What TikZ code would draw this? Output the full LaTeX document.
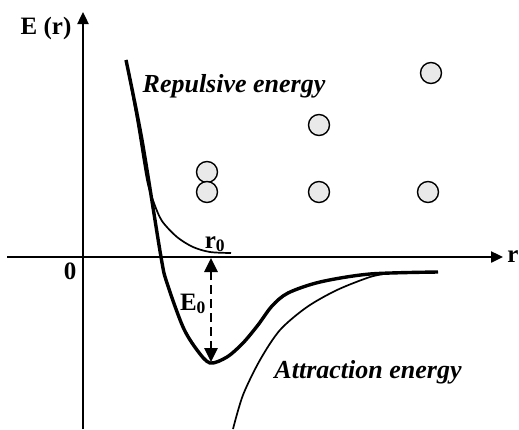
\documentclass[tikz,border=0pt]{standalone}
\usepackage{fontspec}
\setmainfont{Liberation Serif}
\usetikzlibrary{arrows.meta}
\definecolor{atomgray}{HTML}{E8E9E8}

\begin{document}
\begin{tikzpicture}[x=1pt,y=-1pt,
 ax/.style={line width=2.4pt,-{Triangle[length=12pt,width=11pt]}},
 tot/.style={line width=3.4pt,line join=round},
 part/.style={line width=1.7pt},
 gap/.style={line width=2.8pt,dash pattern=on 9pt off 5pt,{Triangle[length=14pt,width=13pt]}-{Triangle[length=14pt,width=13pt]}},
 atom/.style={circle,draw,line width=1.4pt,fill=atomgray,minimum size=21pt,inner sep=0pt},
 lbl/.style={font=\fontsize{25}{28}\selectfont\bfseries,inner sep=0pt,anchor=base},
 nrg/.style={font=\fontsize{26}{28}\selectfont\bfseries\itshape,inner sep=0pt,anchor=base}]
\useasboundingbox (0,0) rectangle (519,429);

% axes
\coordinate (ybot) at (83,429);
\coordinate (ytop) at (83,12);
\coordinate (xl) at (7,257);
\coordinate (xr) at (503,257);
\draw[ax] (ybot)--(ytop);
\draw[ax] (xl)--(xr);
\node[lbl] (elab) at (46,34) {E (r)};
\node[lbl] (zero) at (70,279) {0};
\node[lbl] (rlab) at (513,262) {r};

% atoms
\node[atom] (a1) at (207,172) {};
\node[atom] (a2) at (207,192) {};
\node[atom] (a3) at (319,125) {};
\node[atom] (a4) at (319,192) {};
\node[atom] (a5) at (428,192) {};
\node[atom] (a6) at (431,73) {};

% repulsive part
\draw[part] plot[smooth] coordinates {(126,60) (137,120) (147,180) (154,203) (162,221) (177,237) (193,247) (210,252) (231,253)};
% attraction part
\draw[part] plot[smooth] coordinates {(233,429) (243,395) (260,360) (280,330) (307,307) (337,290) (370,277) (390,273)};
% total energy
\draw[tot] plot[smooth] coordinates {(126,60) (142,140) (161,257) (167,283) (183,327) (197,350) (210,363) (227,357) (243,343) (258,325) (272,306) (288,293) (320,282) (370,274) (438,272)};

% r0 and E0
\coordinate (r0) at (211,258);
\coordinate (emin) at (211,362);
\draw[gap] (r0)--(emin);
\node[lbl] (r0lab) at (215,248) {r\textsubscript{0}};
\node[lbl] (e0lab) at (193,310) {E\textsubscript{0}};

\node[nrg] (rep) at (234,92) {Repulsive energy};
\node[nrg] (att) at (368,378) {Attraction energy};
\end{tikzpicture}
\end{document}
